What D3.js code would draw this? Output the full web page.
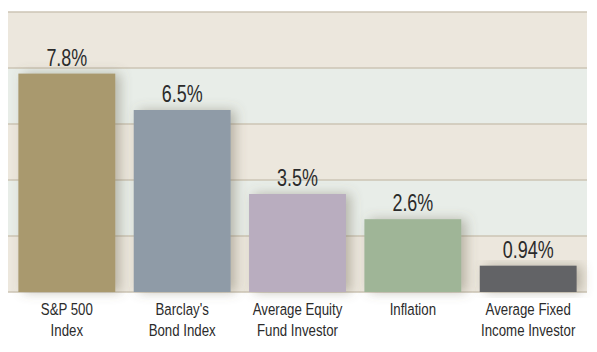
<!DOCTYPE html>
<html>
<head>
<meta charset="utf-8">
<script src="https://cdn.jsdelivr.net/npm/d3@7"></script>
<style>
  body { margin: 0; background: #fff; }
  text { font-family: "Liberation Sans", Arial, sans-serif; fill: #2b2b2b; }
</style>
</head>
<body>
<script>
var w = 597;
var h = 352;
var margin = {top: 12, right: 10, bottom: 60, left: 8};

var categories = [["S&P 500", "Index"], ["Barclay's", "Bond Index"], ["Average Equity", "Fund Investor"], ["Inflation"], ["Average Fixed", "Income Investor"]];
var values = [7.8, 6.5, 3.5, 2.6, 0.94];
var valueLabels = ["7.8%", "6.5%", "3.5%", "2.6%", "0.94%"];
var colors = ["#a9996e", "#8f9ba7", "#b9adbf", "#9fb597", "#626366"];
var gridTicks = [0, 2, 4, 6, 8, 10];

var innerW = w - margin.left - margin.right;
var innerH = h - margin.top - margin.bottom;

var svg = d3.select("body")
    .append("svg")
    .attr("width", w)
    .attr("height", h);

var defs = svg.append("defs");
var shadow = defs.append("filter")
    .attr("id", "shadow")
    .attr("x", "-20%").attr("y", "-20%")
    .attr("width", "150%").attr("height", "140%");
shadow.append("feDropShadow")
    .attr("dx", 5).attr("dy", 0)
    .attr("stdDeviation", 6)
    .attr("flood-color", "#6b6450")
    .attr("flood-opacity", 0.4);

var g = svg.append("g")
    .attr("transform", "translate(" + margin.left + "," + margin.top + ")");

var xScale = d3.scaleBand()
    .domain(d3.range(values.length))
    .range([0, innerW])
    .paddingInner(0.16)
    .paddingOuter(0.09);

var yScale = d3.scaleLinear()
    .domain([0, 10])
    .range([innerH, 0]);

// background bands
g.selectAll(".band")
    .data(d3.range(gridTicks.length - 1))
    .enter()
    .append("rect")
    .attr("x", 0)
    .attr("width", innerW)
    .attr("y", function (d) { return yScale(gridTicks[d + 1]); })
    .attr("height", function (d) { return yScale(gridTicks[d]) - yScale(gridTicks[d + 1]); })
    .attr("fill", function (d) { return d % 2 === 0 ? "#ece7dd" : "#e8ede8"; });

// grid lines
g.selectAll(".grid")
    .data(gridTicks)
    .enter()
    .append("line")
    .attr("x1", 0)
    .attr("x2", innerW)
    .attr("y1", function (d) { return yScale(d); })
    .attr("y2", function (d) { return yScale(d); })
    .attr("stroke", "#cdc5b4")
    .attr("stroke-width", 1.5);

// bars
g.selectAll(".bar")
    .data(values)
    .enter()
    .append("rect")
    .attr("x", function (d, i) { return xScale(i); })
    .attr("y", function (d) { return yScale(d); })
    .attr("width", xScale.bandwidth())
    .attr("height", function (d) { return innerH - yScale(d); })
    .attr("fill", function (d, i) { return colors[i]; })
    .attr("filter", "url(#shadow)");

// value labels (narrowed to mimic a condensed face)
g.selectAll(".val")
    .data(values)
    .enter()
    .append("text")
    .attr("text-anchor", "middle")
    .attr("transform", function (d, i) {
        return "translate(" + (xScale(i) + xScale.bandwidth() / 2) + "," + (yScale(d) - 8) + ") scale(0.78,1)";
    })
    .style("font-size", "23px")
    .text(function (d, i) { return valueLabels[i]; });

// category labels
var cat = g.selectAll(".cat")
    .data(categories)
    .enter()
    .append("text")
    .attr("text-anchor", "middle")
    .attr("transform", function (d, i) {
        return "translate(" + (xScale(i) + xScale.bandwidth() / 2) + "," + (innerH + 23) + ") scale(0.78,1)";
    })
    .style("font-size", "17px");

cat.selectAll("tspan")
    .data(function (d) { return d; })
    .enter()
    .append("tspan")
    .attr("x", 0)
    .attr("dy", function (d, i) { return i === 0 ? 0 : 21; })
    .text(function (d) { return d; });
</script>
</body>
</html>
